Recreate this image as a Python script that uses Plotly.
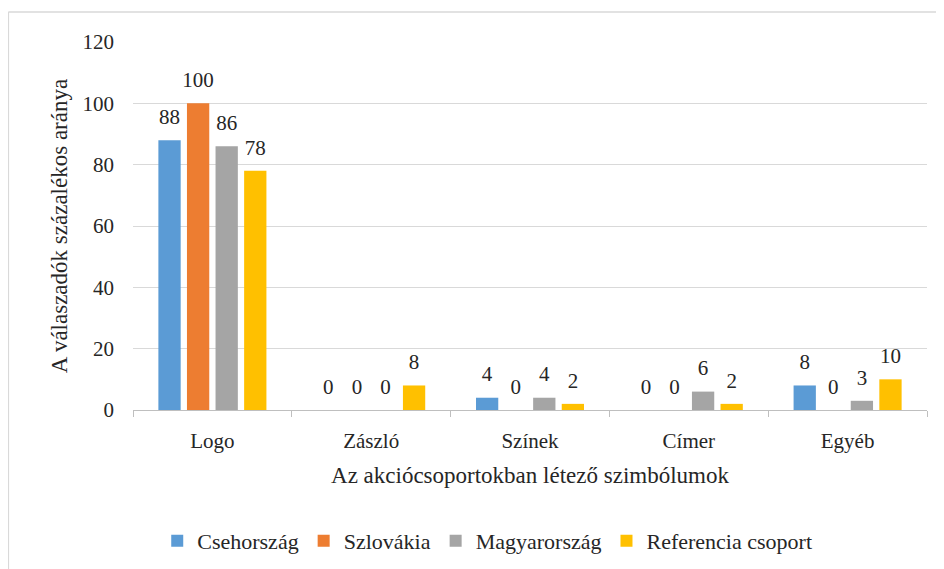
import plotly.graph_objects as go

categories = ["Logo", "Zászló", "Színek", "Címer", "Egyéb"]
series_names = ["Csehország", "Szlovákia", "Magyarország", "Referencia csoport"]
cseh = [88, 0, 4, 0, 8]
szlovakia = [100, 0, 0, 0, 0]
magyar = [86, 0, 4, 6, 3]
referencia = [78, 8, 2, 2, 10]
colors = ["#5B9BD5", "#ED7D31", "#A5A5A5", "#FFC000"]

FONT = "Liberation Serif"
TXT = "#262626"

fig = go.Figure()
all_series = [cseh, szlovakia, magyar, referencia]
for i, (name, vals, col) in enumerate(zip(series_names, all_series, colors)):
    fig.add_trace(go.Bar(
        x=categories, y=vals, name=name,
        marker=dict(color=col, line=dict(width=0)),
        offsetgroup=str(i), alignmentgroup="a",
    ))
for i, vals in enumerate(all_series):
    fig.add_trace(go.Scatter(
        x=categories, y=vals, mode="markers+text",
        text=[str(v) for v in vals], textposition="top center",
        textfont=dict(family=FONT, size=21, color=TXT),
        marker=dict(size=16, opacity=0),
        offsetgroup=str(i), alignmentgroup="a",
        showlegend=False, hoverinfo="skip", cliponaxis=False,
    ))

fig.update_layout(
    width=936, height=561,
    paper_bgcolor="white", plot_bgcolor="white",
    margin=dict(l=125, r=17, t=34, b=159, autoexpand=False),
    barmode="group", bargap=0.28, bargroupgap=0.22,
    scattermode="group", scattergap=0.28,
    font=dict(family=FONT, size=21, color=TXT),
    showlegend=True,
    legend=dict(orientation="h", x=0.512, xanchor="center", xref="container",
                y=0.05, yanchor="middle", yref="container",
                font=dict(family=FONT, size=22, color=TXT),
                itemwidth=30, tracegroupgap=0),
    xaxis=dict(
        automargin=False,
        showgrid=False, showline=True, linecolor="#BFBFBF", linewidth=1,
        ticks="outside", tickson="boundaries", ticklen=6, tickcolor="#BFBFBF",
        ticklabelstandoff=12,
        tickfont=dict(family=FONT, size=21, color=TXT),
        title=dict(text="Az akciócsoportokban létező szimbólumok",
                   font=dict(family=FONT, size=23, color=TXT), standoff=14),
    ),
    yaxis=dict(
        automargin=False,
        range=[0, 120], dtick=20, showgrid=True, gridcolor="#D9D9D9", gridwidth=1,
        zeroline=False, showline=False, ticks="",
        ticklabelstandoff=18,
        tickfont=dict(family=FONT, size=21, color=TXT),
        title=dict(text="A válaszadók százalékos aránya",
                   font=dict(family=FONT, size=23, color=TXT), standoff=8),
    ),
    shapes=[
        dict(type="line", xref="paper", yref="paper", x0=-0.157, x1=1.03, y0=1.0815, y1=1.0815,
             line=dict(color="#D9D9D9", width=1.5)),
        dict(type="line", xref="paper", yref="paper", x0=-0.157, x1=-0.157, y0=1.0815, y1=-0.45,
             line=dict(color="#D9D9D9", width=1.5)),
    ],
)

fig.write_html("out.html")
